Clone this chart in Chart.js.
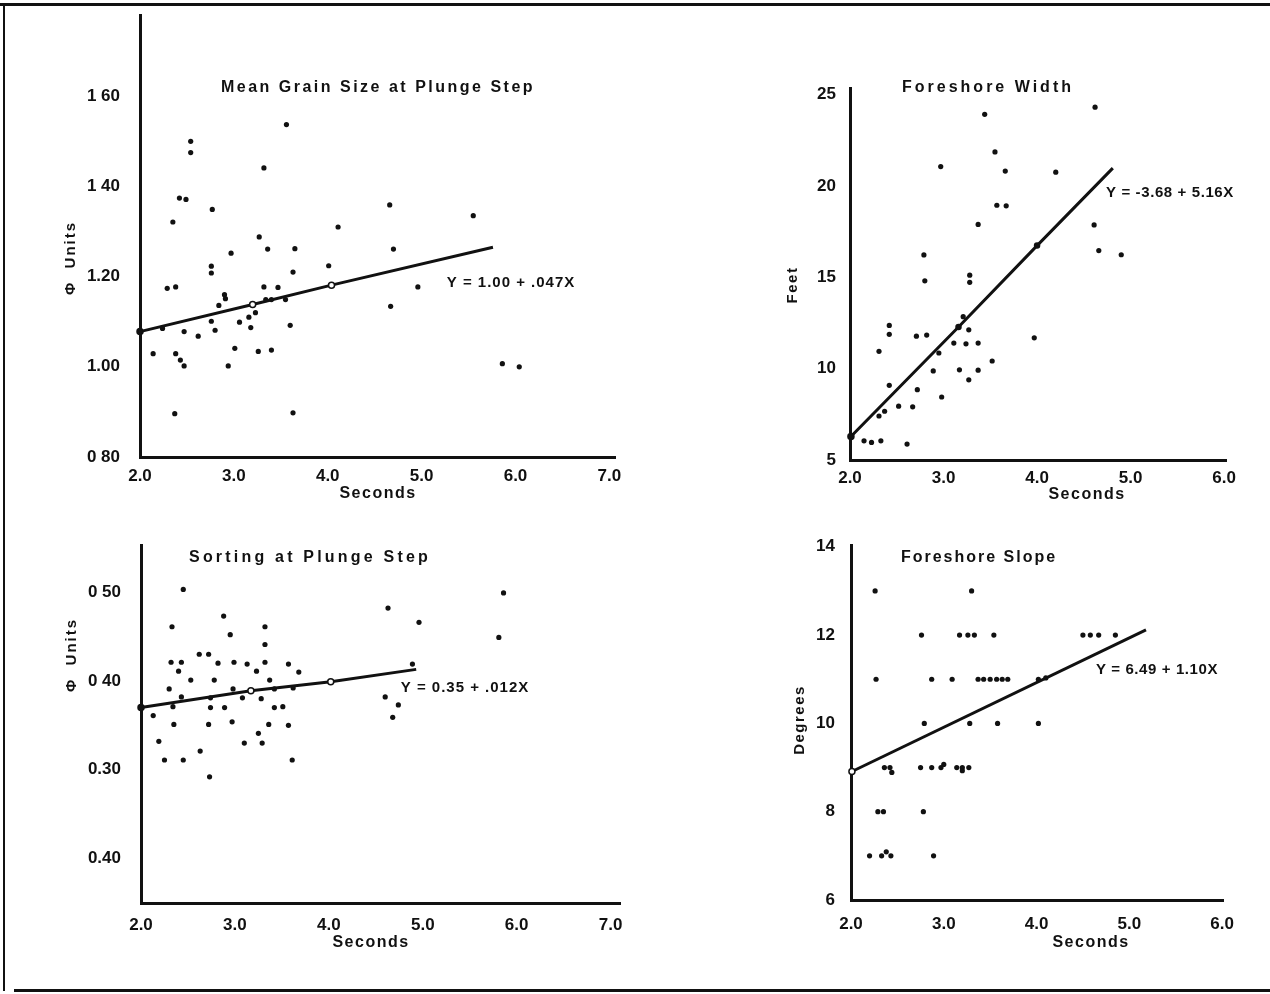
<!DOCTYPE html>
<html>
<head>
<meta charset="utf-8">
<script src="https://cdn.jsdelivr.net/npm/chart.js@4.4.0/dist/chart.umd.min.js"></script>
<style>
  html, body { margin: 0; padding: 0; background: #fff; }
  body { width: 1270px; height: 994px; position: relative; overflow: hidden; }
  .rule { position: absolute; background: #111; }
  canvas { position: absolute; }
</style>
</head>
<body>
<div class="rule" style="left:0;top:3px;width:1270px;height:3px"></div>
<div class="rule" style="left:3px;top:3px;width:2px;height:988px"></div>
<div class="rule" style="left:14px;top:989px;width:1256px;height:3px"></div>
<canvas id="grain"></canvas>
<canvas id="width"></canvas>
<canvas id="sorting"></canvas>
<canvas id="slope"></canvas>
<script>
// mean grain size at plunge step (phi units) vs wave period (seconds)
const grainX = [3.56, 2.54, 2.54, 3.32, 2.42, 2.49, 4.66, 2.77, 5.55, 2.35, 4.11, 3.27, 3.36, 3.65, 4.70,
  2.97, 2.76, 2.76, 3.63, 4.01, 2.29, 2.38, 3.32, 3.47, 4.96, 2.90, 2.91, 2.24, 2.84, 3.34, 3.40, 3.55,
  2.76, 3.06, 3.16, 3.23, 3.18, 2.80, 2.47, 3.60, 2.62, 4.67, 2.14, 2.38, 2.43, 2.47, 3.01, 3.26, 3.40,
  2.94, 5.86, 6.04, 2.37, 3.63];
const grainY = [1.537, 1.500, 1.475, 1.441, 1.374, 1.371, 1.359, 1.349, 1.335, 1.321, 1.310, 1.288, 1.261, 1.262, 1.261,
  1.252, 1.223, 1.208, 1.210, 1.224, 1.174, 1.177, 1.177, 1.176, 1.177, 1.160, 1.151, 1.085, 1.136, 1.149, 1.149, 1.149,
  1.101, 1.099, 1.110, 1.120, 1.087, 1.081, 1.078, 1.092, 1.068, 1.134, 1.029, 1.029, 1.015, 1.002, 1.041, 1.034, 1.037,
  1.002, 1.007, 1.000, 0.896, 0.898];
const grainLineX = [2.0, 3.20, 4.04, 5.76];
const grainLineY = [1.078, 1.138, 1.181, 1.265];
const grainYTicks = [0.8, 1.0, 1.2, 1.4, 1.6];
const grainYLabels = ["0 80", "1.00", "1.20", "1 40", "1 60"];

// foreshore width (feet)
const widthX = [4.62, 3.44, 3.55, 2.97, 3.66, 4.20, 3.57, 3.67, 3.37, 4.61, 4.66, 4.90, 2.79, 2.80, 3.28, 3.28,
  3.21, 3.27, 2.42, 2.42, 2.71, 2.82, 3.11, 3.24, 3.37, 3.97, 2.31, 2.95, 3.52, 2.89, 3.17, 3.37, 3.27,
  2.42, 2.72, 2.98, 2.52, 2.67, 2.37, 2.31, 2.15, 2.23, 2.33, 2.61];
const widthY = [24.32, 23.93, 21.87, 21.07, 20.82, 20.76, 18.95, 18.92, 17.90, 17.87, 16.47, 16.24, 16.23, 14.81, 15.12, 14.73,
  12.85, 12.13, 12.37, 11.88, 11.78, 11.84, 11.40, 11.36, 11.40, 11.69, 10.95, 10.86, 10.42, 9.88, 9.94, 9.92, 9.39,
  9.09, 8.85, 8.45, 7.95, 7.91, 7.67, 7.41, 6.05, 5.96, 6.05, 5.87];
const widthLineX = [2.01, 3.16, 4.0, 4.81];
const widthLineY = [6.29, 12.28, 16.74, 20.98];
const widthYTicks = [5, 10, 15, 20, 25];
const widthYLabels = ["5", "10", "15", "20", "25"];

// sorting at plunge step (phi units)
const sortX = [2.45, 4.63, 5.86, 2.88, 4.96, 2.33, 3.32, 2.95, 5.81, 3.32, 2.62, 2.72, 2.32, 2.43, 2.82, 2.99,
  3.13, 3.32, 3.57, 4.89, 2.40, 3.23, 3.68, 2.53, 2.78, 3.37, 2.30, 2.98, 3.42, 3.62, 2.43, 2.74, 3.08,
  3.28, 4.60, 2.34, 2.74, 2.89, 3.42, 3.51, 4.74, 2.13, 4.68, 2.35, 2.72, 2.97, 3.36, 3.57, 3.25, 2.19,
  3.10, 3.29, 2.63, 2.25, 2.45, 3.61, 2.73];
const sortY = [0.503, 0.482, 0.499, 0.473, 0.466, 0.461, 0.461, 0.452, 0.449, 0.441, 0.430, 0.430, 0.421, 0.421, 0.420, 0.421,
  0.419, 0.421, 0.419, 0.419, 0.411, 0.411, 0.410, 0.401, 0.401, 0.401, 0.391, 0.391, 0.391, 0.392, 0.382, 0.381, 0.381,
  0.380, 0.382, 0.371, 0.370, 0.370, 0.370, 0.371, 0.373, 0.361, 0.359, 0.351, 0.351, 0.354, 0.351, 0.350, 0.341, 0.332,
  0.330, 0.330, 0.321, 0.311, 0.311, 0.311, 0.292];
const sortLineX = [2.0, 3.17, 4.02, 4.93];
const sortLineY = [0.370, 0.389, 0.399, 0.413];
const sortYTicks = [0.2, 0.3, 0.4, 0.5];
const sortYLabels = ["0.40", "0.30", "0 40", "0 50"];

// foreshore slope (degrees)
const slopeX = [2.26, 3.30,
  2.76, 3.17, 3.26, 3.33, 3.54, 4.50, 4.58, 4.67, 4.85,
  2.27, 2.87, 3.09, 3.37, 3.43, 3.50, 3.57, 3.63, 3.69, 4.02, 4.10,
  2.79, 3.28, 3.58, 4.02,
  2.36, 2.42, 2.44, 2.75, 2.87, 2.97, 3.00, 3.14, 3.20, 3.20, 3.27,
  2.29, 2.35, 2.78,
  2.20, 2.33, 2.38, 2.43, 2.89];
const slopeY = [13, 13,
  12, 12, 12, 12, 12, 12, 12, 12, 12,
  11, 11, 11, 11, 11, 11, 11, 11, 11, 11, 11.03,
  10, 10, 10, 10,
  9, 9, 8.89, 9, 9, 9, 9.07, 9, 9, 8.93, 9,
  8, 8, 8,
  7, 7, 7.09, 7, 7];
const slopeLineX = [2.01, 5.18];
const slopeLineY = [8.91, 12.12];
const slopeYTicks = [6, 8, 10, 12, 14];
const slopeYLabels = ["6", "8", "10", "12", "14"];

const secTicks7 = [2, 3, 4, 5, 6, 7];
const secLabels7 = ["2.0", "3.0", "4.0", "5.0", "6.0", "7.0"];
const secTicks6 = [2, 3, 4, 5, 6];
const secLabels6 = ["2.0", "3.0", "4.0", "5.0", "6.0"];

const FONT = "Liberation Sans";
const zip = (xs, ys) => xs.map((x, i) => ({ x, y: ys[i] }));

// chart area tops are kept PAD_TOP below each canvas top; the y scale asks
// for about half a label plus its tick padding above the top tick
const PAD_TOP = 32;

const makePanel = (id, cfg) => {
  const el = document.getElementById(id);
  el.width = cfg.box.width;
  el.height = cfg.box.height;
  el.style.left = cfg.box.left + "px";
  el.style.top = cfg.box.top + "px";

  const notes = {
    id: "notes",
    afterDraw(chart) {
      const ctx = chart.ctx;
      cfg.texts.forEach((t) => {
        ctx.save();
        ctx.font = `bold ${t.size}px "${FONT}"`;
        ctx.letterSpacing = (t.spacing || 0) + "px";
        ctx.fillStyle = "#111";
        ctx.textAlign = "center";
        ctx.textBaseline = "middle";
        ctx.translate(t.x - cfg.box.left, t.y - cfg.box.top);
        if (t.rot) ctx.rotate(t.rot);
        ctx.fillText(t.text, 0, 0);
        ctx.restore();
      });
    },
  };

  const tickFont = { family: FONT, weight: "bold", size: 17 };

  new Chart(el, {
    type: "scatter",
    data: {
      datasets: [
        {
          data: zip(cfg.xs, cfg.ys),
          pointRadius: 2.6,
          pointBackgroundColor: "#111",
          pointBorderWidth: 0,
          clip: false,
        },
        {
          type: "line",
          data: zip(cfg.lineX, cfg.lineY),
          borderColor: "#111",
          borderWidth: 3,
          pointRadius: cfg.linePointRadius,
          pointBackgroundColor: cfg.linePointFill,
          pointBorderColor: "#111",
          pointBorderWidth: 1.5,
          tension: 0,
          clip: false,
        },
      ],
    },
    options: {
      responsive: false,
      animation: false,
      layout: { autoPadding: false, padding: { top: PAD_TOP, right: 25, left: 0, bottom: 0 } },
      plugins: { legend: { display: false }, tooltip: { enabled: false } },
      scales: {
        x: {
          type: "linear",
          min: 2,
          max: cfg.xMax,
          afterFit: (s) => { s.height = 60; },
          afterBuildTicks: (s) => { s.ticks = cfg.xTicks.map((v) => ({ value: v })); },
          ticks: {
            callback: (v, i) => cfg.xLabels[i],
            padding: cfg.xPad,
            color: "#111",
            font: tickFont,
            autoSkip: false,
            maxRotation: 0,
          },
          grid: { display: false, drawTicks: false },
          border: { display: true, color: "#111", width: 3 },
        },
        y: {
          type: "linear",
          min: cfg.yMin,
          max: cfg.yMax,
          afterFit: (s) => { s.width = 80; },
          afterBuildTicks: (s) => { s.ticks = cfg.yTicks.map((v) => ({ value: v })); },
          ticks: {
            callback: (v, i) => cfg.yLabels[i],
            padding: cfg.yPad,
            color: "#111",
            font: tickFont,
            autoSkip: false,
          },
          grid: { display: false, drawTicks: false },
          border: { display: true, color: "#111", width: 3 },
        },
      },
    },
    plugins: [notes],
  });
};

const UP = -Math.PI / 2;

makePanel("grain", {
  box: { left: 60, top: 15 - PAD_TOP, width: 580, height: 457 + 60 - (15 - PAD_TOP) },
  xs: grainX, ys: grainY,
  lineX: grainLineX, lineY: grainLineY,
  linePointRadius: [3, 3, 3, 0],
  linePointFill: ["#111", "#fff", "#fff", "#111"],
  xMax: 7.06, yMin: 0.8, yMax: 1.78,
  xTicks: secTicks7, xLabels: secLabels7,
  yTicks: grainYTicks, yLabels: grainYLabels,
  xPad: 9, yPad: 20,
  texts: [
    { text: "Mean Grain Size at Plunge Step", x: 378, y: 88, size: 16, spacing: 2.5 },
    { text: "Y = 1.00 + .047X", x: 511, y: 283, size: 15, spacing: 1 },
    { text: "\u03A6  Units", x: 71, y: 258, size: 15, spacing: 2, rot: UP },
    { text: "Seconds", x: 378, y: 494, size: 16, spacing: 1.5 },
  ],
});

makePanel("width", {
  box: { left: 770, top: 88 - PAD_TOP, width: 481, height: 460 + 60 - (88 - PAD_TOP) },
  xs: widthX, ys: widthY,
  lineX: widthLineX, lineY: widthLineY,
  linePointRadius: [3, 2.5, 2.5, 0],
  linePointFill: ["#111", "#111", "#111", "#111"],
  xMax: 6.02, yMin: 5, yMax: 25.37,
  xTicks: secTicks6, xLabels: secLabels6,
  yTicks: widthYTicks, yLabels: widthYLabels,
  xPad: 8, yPad: 14,
  texts: [
    { text: "Foreshore Width", x: 988, y: 88, size: 16, spacing: 3 },
    { text: "Y = -3.68 + 5.16X", x: 1170, y: 193, size: 15, spacing: 0.6 },
    { text: "Feet", x: 793, y: 285, size: 15, spacing: 1.5, rot: UP },
    { text: "Seconds", x: 1087, y: 495, size: 16, spacing: 1.5 },
  ],
});

makePanel("sorting", {
  box: { left: 61, top: 545 - PAD_TOP, width: 584, height: 903 + 60 - (545 - PAD_TOP) },
  xs: sortX, ys: sortY,
  lineX: sortLineX, lineY: sortLineY,
  linePointRadius: [3, 3, 3, 0],
  linePointFill: ["#111", "#fff", "#fff", "#111"],
  xMax: 7.1, yMin: 0.15, yMax: 0.553,
  xTicks: secTicks7, xLabels: secLabels7,
  yTicks: sortYTicks, yLabels: sortYLabels,
  xPad: 12, yPad: 20,
  texts: [
    { text: "Sorting at Plunge Step", x: 310, y: 558, size: 16, spacing: 3.2 },
    { text: "Y = 0.35 + .012X", x: 465, y: 688, size: 15, spacing: 1 },
    { text: "\u03A6  Units", x: 72, y: 655, size: 15, spacing: 2, rot: UP },
    { text: "Seconds", x: 371, y: 943, size: 16, spacing: 1.5 },
  ],
});

makePanel("slope", {
  box: { left: 771, top: 545 - PAD_TOP, width: 477, height: 900 + 60 - (545 - PAD_TOP) },
  xs: slopeX, ys: slopeY,
  lineX: slopeLineX, lineY: slopeLineY,
  linePointRadius: [3, 0],
  linePointFill: ["#fff", "#111"],
  xMax: 6.01, yMin: 6, yMax: 14.04,
  xTicks: secTicks6, xLabels: secLabels6,
  yTicks: slopeYTicks, yLabels: slopeYLabels,
  xPad: 14, yPad: 16,
  texts: [
    { text: "Foreshore Slope", x: 979, y: 558, size: 16, spacing: 2 },
    { text: "Y = 6.49 + 1.10X", x: 1157, y: 670, size: 15, spacing: 0.6 },
    { text: "Degrees", x: 800, y: 720, size: 15, spacing: 1.5, rot: UP },
    { text: "Seconds", x: 1091, y: 943, size: 16, spacing: 1.5 },
  ],
});
</script>
</body>
</html>
